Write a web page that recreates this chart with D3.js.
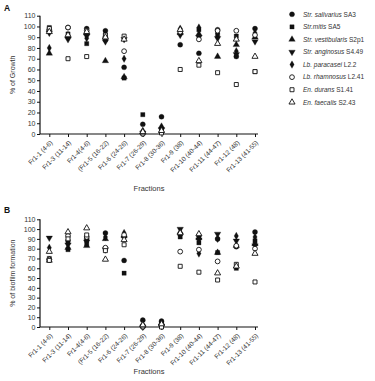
<!DOCTYPE html>
<html><head><meta charset="utf-8">
<script src="https://cdn.jsdelivr.net/npm/d3@7"></script>
<style>body{margin:0;background:#fff}svg{display:block;font-family:"Liberation Sans",Arial,sans-serif}</style>
</head><body><svg id="c" width="375" height="381"></svg>
<script>
const categories = ["Fr1-1 (4-6)","Fr1-3 (11-14)","Fr1-4(4-6)","(Fr1-5 (16-22)","Fr1-6 (24-26)","Fr1-7 (26-29)","Fr1-8 (30-36)","Fr1-9 (38)","Fr1-10 (40-44)","Fr1-11 (44-47)","Fr1-12 (48)","Fr1-13 (41-55)"];
const seriesNames = [["Str. salivarius","SA3"],["Str.mitis","SA5"],["Str. vestibularis","S2p1"],["Str. anginosus","S4.49"],["Lb. paracasei","L2.2"],["Lb. rhamnosus","L2.41"],["En. durans","S1.41"],["En. faecalis","S2.43"]];
const yTicks = [0,10,20,30,40,50,60,70,80,90,100,110];
// Panel A: % of Growth
const growthSalivarius   = [97,99,98,96,62,9,16,83,75,97,72,98];
const growthMitis        = [99,93,84,88,52,18,3,96,97,92,91,58];
const growthVestibularis = [75,91,94,68,53,2,7,94,93,72,83,90];
const growthAnginosus    = [94,88,91,86,88,1,4,92,90,89,74,86];
const growthParacasei    = [80,90,89,93,70,3,5,98,99,94,77,94];
const growthRhamnosus    = [96,99,96,90,77,0,2,95,88,96,96,92];
const growthDurans       = [98,70,72,92,91,1,1,60,64,57,46,58];
const growthFaecalis     = [95,92,95,90,88,2,3,97,68,84,88,72];
// Panel B: % of biofilm formation
const bioSalivarius   = [69,88,90,96,68,7,6,95,93,90,82,97];
const bioMitis        = [70,79,85,80,55,1,3,92,86,76,60,88];
const bioVestibularis = [68,81,83,90,93,2,4,97,91,76,83,85];
const bioAnginosus    = [91,84,87,79,91,0,1,100,89,95,88,83];
const bioParacasei    = [81,86,88,92,96,1,2,94,75,90,93,92];
const bioRhamnosus    = [69,93,92,81,94,0,1,77,79,67,83,80];
const bioDurans       = [68,90,94,78,84,1,0,62,56,48,64,46];
const bioFaecalis     = [77,97,101,69,89,2,3,96,95,55,62,75];

const growth = [growthSalivarius,growthMitis,growthVestibularis,growthAnginosus,growthParacasei,growthRhamnosus,growthDurans,growthFaecalis];
const biofilm = [bioSalivarius,bioMitis,bioVestibularis,bioAnginosus,bioParacasei,bioRhamnosus,bioDurans,bioFaecalis];

const symTypes = [
  {t:d3.symbolCircle,s:20,fill:true,rot:0},
  {t:d3.symbolSquare,s:18,fill:true,rot:0},
  {t:d3.symbolTriangle,s:18,fill:true,rot:0},
  {t:d3.symbolTriangle,s:18,fill:true,rot:180},
  {t:d3.symbolDiamond,s:16,fill:true,rot:0},
  {t:d3.symbolCircle,s:18,fill:false,rot:0},
  {t:d3.symbolSquare,s:16,fill:false,rot:0},
  {t:d3.symbolTriangle,s:16,fill:false,rot:0}
];
const ink = "#111";
const svg = d3.select("#c");

function panel(data, yTop, yBottom, title, letter, letterY, fracY) {
  const x = d3.scalePoint().domain(categories).range([49.3,255]);
  const y = d3.scaleLinear().domain([0,110]).range([yBottom,yTop]);
  const g = svg.append("g");
  const ya = g.append("g").attr("transform","translate(40,0)")
    .call(d3.axisLeft(y).tickValues(yTicks).tickSize(3).tickPadding(1.5));
  ya.select(".domain").attr("d",`M0,${yTop}V${yBottom}`).attr("stroke",ink).attr("stroke-width",1.2);
  ya.selectAll(".tick line").attr("stroke",ink).attr("stroke-width",1);
  ya.selectAll("text").attr("font-size",7).attr("fill","#333");
  const xa = g.append("g").attr("transform",`translate(0,${yBottom})`)
    .call(d3.axisBottom(x).tickSize(3).tickPadding(2));
  xa.select(".domain").attr("d","M40,0H258").attr("stroke",ink).attr("stroke-width",1.2);
  xa.selectAll(".tick line").attr("stroke",ink).attr("stroke-width",1);
  xa.selectAll("text").attr("font-size",6.5).attr("fill","#333")
    .attr("text-anchor","end").attr("dy","0.35em")
    .attr("transform","translate(-2,4) rotate(-45)");
  g.append("text").attr("transform",`translate(15,${(yTop+yBottom)/2}) rotate(-90)`)
    .attr("text-anchor","middle").attr("font-size",7).attr("fill","#333").text(title);
  g.append("text").attr("x",149).attr("y",fracY).attr("text-anchor","middle")
    .attr("font-size",7.5).attr("fill","#333").text("Fractions");
  g.append("text").attr("x",4).attr("y",letterY).attr("font-size",8.5).attr("font-weight","bold")
    .attr("fill",ink).text(letter);
  data.forEach((vals,si)=>{
    const st = symTypes[si];
    const sym = d3.symbol().type(st.t).size(st.s);
    g.append("g").selectAll("path").data(vals).join("path")
      .attr("d",sym)
      .attr("transform",(v,i)=>`translate(${x(categories[i])},${y(v)}) rotate(${st.rot})`)
      .attr("fill",st.fill?ink:"#fff").attr("stroke",ink).attr("stroke-width",st.fill?0.3:0.9);
  });
}
panel(growth, 15.7, 134, "% of Growth", "A", 11, 191);
panel(biofilm, 219.3, 327, "% of biofilm formation", "B", 213, 374);

// legend
const lg = svg.append("g");
seriesNames.forEach((n,i)=>{
  const yy = 14.3 + i*12.57;
  const st = symTypes[i];
  lg.append("path").attr("d",d3.symbol().type(st.t).size(st.s)())
    .attr("transform",`translate(292,${yy}) rotate(${st.rot})`)
    .attr("fill",st.fill?ink:"#fff").attr("stroke",ink).attr("stroke-width",st.fill?0.3:0.9);
  const t = lg.append("text").attr("x",303).attr("y",yy).attr("dy","0.35em")
    .attr("font-size",6.5).attr("fill","#333");
  t.append("tspan").attr("font-style","italic").text(n[0]);
  t.append("tspan").text(" "+n[1]);
});
</script></body></html>
